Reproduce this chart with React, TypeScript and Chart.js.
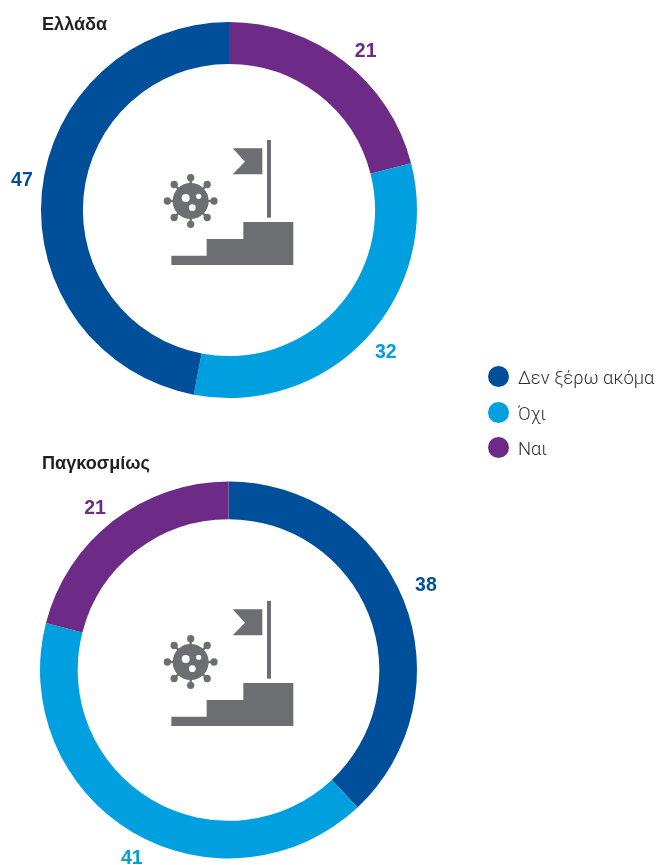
import React, { useEffect, useRef } from "react";
import { Chart, registerables } from "chart.js";

Chart.register(...registerables);

const categories = ["Δεν ξέρω ακόμα", "Όχι", "Ναι"];
const categoryColors = ["#004f9b", "#009fdf", "#6d2a87"];

// Slices run clockwise from twelve o'clock, so each region lists its own order.
const greeceOrder = [2, 1, 0];
const greeceValues = [21, 32, 47];
const globalOrder = [0, 1, 2];
const globalValues = [38, 41, 21];

const GREY = "#6d6e71";
const FONT = "'Liberation Sans', Arial, sans-serif";

// Writes each slice's value just outside its arc, nudged per slice to clear the ring.
const valueLabels = {
  id: "valueLabels",
  afterDatasetsDraw(chart: any, _args: any, opts: any) {
    const { ctx } = chart;
    const values = chart.data.datasets[0].data;
    const colors = chart.data.datasets[0].backgroundColor;
    ctx.save();
    ctx.font = `bold 19.5px ${FONT}`;
    ctx.textAlign = "center";
    ctx.textBaseline = "middle";
    chart.getDatasetMeta(0).data.forEach((arc: any, i: number) => {
      const mid = (arc.startAngle + arc.endAngle) / 2;
      const r = arc.outerRadius + opts.gap[i];
      const [dx, dy] = opts.nudge[i];
      ctx.fillStyle = colors[i];
      ctx.fillText(String(values[i]), arc.x + Math.cos(mid) * r + dx, arc.y + Math.sin(mid) * r + dy);
    });
    ctx.restore();
  },
};

type DonutProps = {
  top: number;
  height: number;
  order: number[];
  values: number[];
  cutout: string;
  padding: { left: number; right: number; top: number; bottom: number };
  gap: number[];
  nudge: number[][];
};

function Donut({ top, height, order, values, cutout, padding, gap, nudge }: DonutProps) {
  const ref = useRef<HTMLCanvasElement>(null);
  useEffect(() => {
    const chart = new Chart(ref.current as HTMLCanvasElement, {
      type: "doughnut",
      data: {
        labels: order.map((i) => categories[i]),
        datasets: [
          {
            data: values,
            backgroundColor: order.map((i) => categoryColors[i]),
            borderWidth: 0,
          },
        ],
      },
      options: {
        responsive: false,
        animation: false,
        cutout,
        layout: { padding },
        events: [],
        plugins: {
          legend: { display: false },
          tooltip: { enabled: false },
          valueLabels: { gap, nudge },
        } as any,
      },
      plugins: [valueLabels],
    });
    return () => chart.destroy();
  }, []);
  return (
    <canvas
      ref={ref}
      width={656}
      height={height}
      style={{ position: "absolute", left: 0, top, width: 656, height }}
    />
  );
}

// Virus beside a flag planted on top of a flight of steps.
function Emblem({ top }: { top: number }) {
  const cx = 122;
  const cy = 213;
  const spokes = [0, 45, 90, 135, 180, 225, 270, 315];
  return (
    <svg
      width={160}
      height={140}
      viewBox="0 0 480 420"
      style={{ position: "absolute", left: 150, top }}
    >
      <g fill={GREY}>
        <rect x={351} y={30} width={12} height={233} />
        <polygon points="248,55 337,55 337,133 248,133 285,95" />
        <polygon points="64,405 64,377 170,377 170,327 280,327 280,276 430,276 430,405" />
        <circle cx={cx} cy={cy} r={54} />
        {spokes.map((a) => {
          const c = Math.cos((a * Math.PI) / 180);
          const s = Math.sin((a * Math.PI) / 180);
          return (
            <g key={a}>
              <line x1={cx} y1={cy} x2={cx + 70 * c} y2={cy + 70 * s} stroke={GREY} strokeWidth={7} />
              <circle cx={cx + 70 * c} cy={cy + 70 * s} r={11} />
            </g>
          );
        })}
      </g>
      <g fill="#fff">
        <circle cx={107} cy={204} r={12} />
        <circle cx={146} cy={199} r={8} />
        <circle cx={127} cy={233} r={10} />
      </g>
    </svg>
  );
}

const titleStyle: React.CSSProperties = {
  position: "absolute",
  left: 42,
  font: `bold 18.1px ${FONT}`,
  color: "#231f20",
  lineHeight: "20px",
  whiteSpace: "nowrap",
};

export default function App() {
  return (
    <div style={{ position: "fixed", inset: 0, background: "#fff", overflow: "hidden" }}>
      <Donut
        top={0}
        height={440}
        order={greeceOrder}
        values={greeceValues}
        cutout="77.7%"
        padding={{ left: 41, right: 239, top: 22, bottom: 42 }}
        gap={[22, 23, 21]}
        nudge={[[8, 8], [3, -2], [1, -10]]}
      />
      <Donut
        top={440}
        height={425}
        order={globalOrder}
        values={globalValues}
        cutout="80%"
        padding={{ left: 40, right: 239, top: 41, bottom: 6 }}
        gap={[26, 21, 21]}
        nudge={[[-2, -5], [10, 8], [-5, 4]]}
      />
      <Emblem top={130} />
      <Emblem top={591} />
      <div style={{ ...titleStyle, top: 14 }}>Ελλάδα</div>
      <div style={{ ...titleStyle, top: 453 }}>Παγκοσμίως</div>
      {categories.map((c, i) => (
        <div key={c}>
          <div
            style={{
              position: "absolute",
              left: 488,
              top: 366 + i * 35.5,
              width: 21,
              height: 21,
              borderRadius: "50%",
              background: categoryColors[i],
            }}
          />
          <div
            style={{
              position: "absolute",
              left: 518,
              top: 366 + i * 35.5,
              font: `300 18.4px Roboto, sans-serif`,
              color: "#2f2f31",
              lineHeight: "24px",
              whiteSpace: "nowrap",
            }}
          >
            {c}
          </div>
        </div>
      ))}
    </div>
  );
}
